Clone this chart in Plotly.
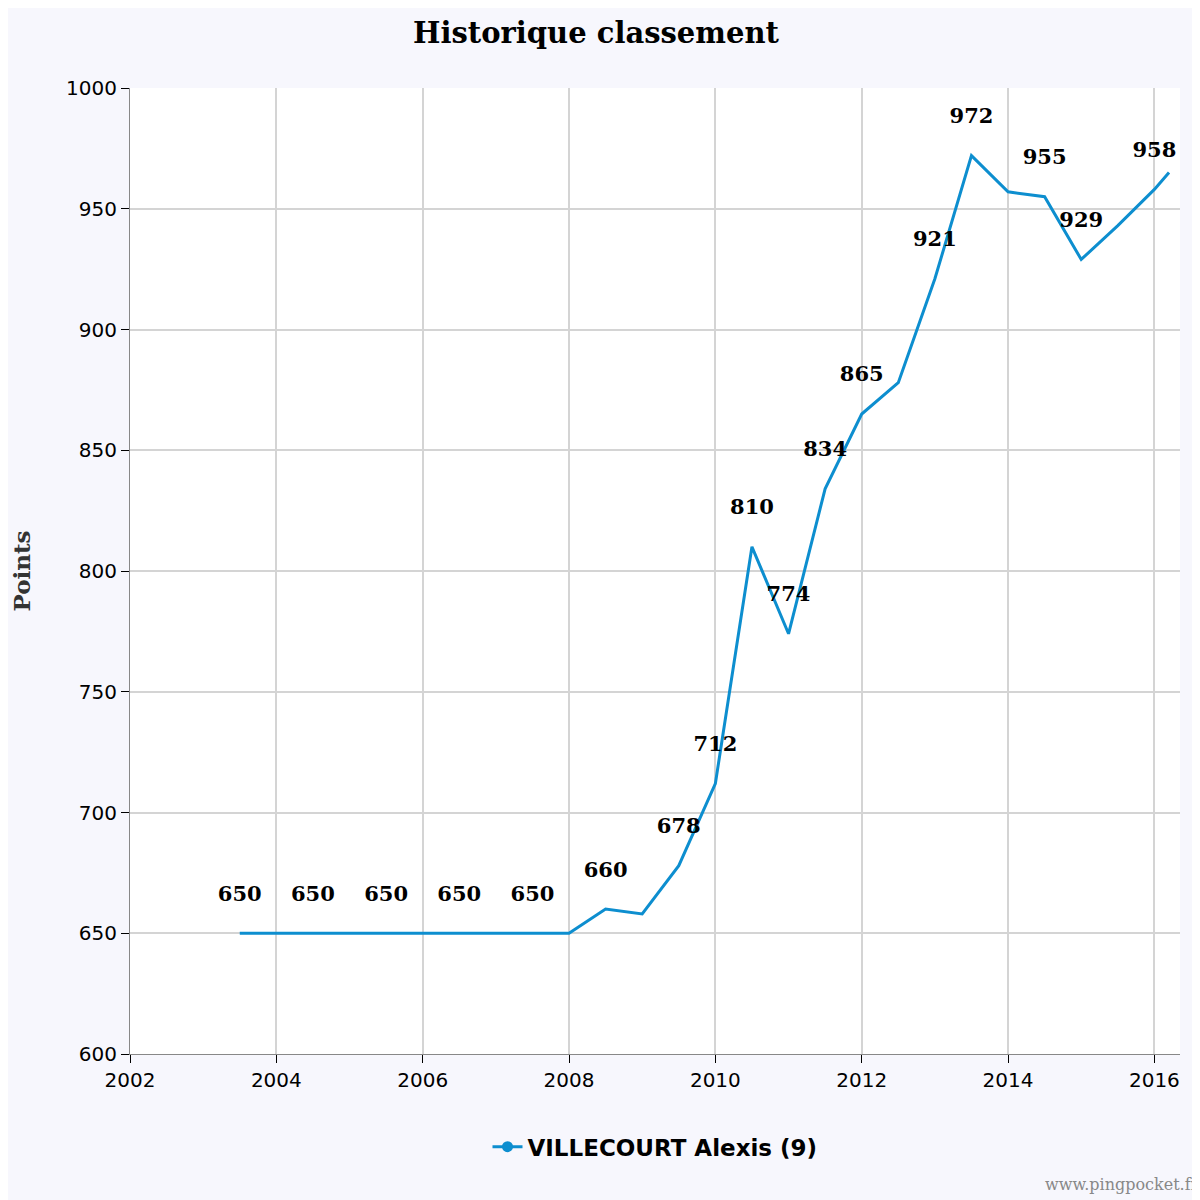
import plotly.graph_objects as go

years = [2003.5, 2004, 2004.5, 2005, 2005.5, 2006, 2006.5, 2007, 2007.5, 2008,
         2008.5, 2009, 2009.5, 2010, 2010.5, 2011, 2011.5, 2012, 2012.5, 2013,
         2013.5, 2014, 2014.5, 2015, 2015.5, 2016, 2016.2]
points = [650, 650, 650, 650, 650, 650, 650, 650, 650, 650,
          660, 658, 678, 712, 810, 774, 834, 865, 878, 921,
          972, 957, 955, 929, 943, 958, 965]
labels = ["650", "", "650", "", "650", "", "650", "", "650", "",
          "660", "", "678", "712", "810", "774", "834", "865", "", "921",
          "972", "", "955", "929", "", "958", ""]

fig = go.Figure()
fig.add_trace(go.Scatter(
    x=years, y=points, mode="lines+text", text=[l + "<br> " if l else "" for l in labels],
    textposition="top center",
    textfont=dict(family="DejaVu Serif", size=21, color="black", weight="bold"),
    line=dict(color="#0d8ecf", width=3), name="VILLECOURT Alexis (9)",
    showlegend=False, cliponaxis=False))
fig.add_trace(go.Scatter(
    x=[None], y=[None], mode="lines+markers", name="VILLECOURT Alexis (9)",
    line=dict(color="#0d8ecf", width=3), marker=dict(size=11, color="#0d8ecf")))

fig.update_layout(
    width=1200, height=1200,
    paper_bgcolor="#f7f7fd", plot_bgcolor="white",
    margin=dict(l=117, r=28, t=80, b=154),
    title=dict(text="<b>Historique classement</b>", x=0.49, y=0.979, xanchor="center",
               yanchor="middle", font=dict(family="DejaVu Serif", size=29, color="black")),
    xaxis=dict(range=[2002, 2016.35], tickvals=list(range(2002, 2017, 2)),
               showgrid=True, gridcolor="#d4d4d4", gridwidth=1.5,
               ticks="outside", ticklen=8, tickcolor="black", showline=True,
               linecolor="#888", tickfont=dict(family="DejaVu Sans", size=20, color="black")),
    yaxis=dict(range=[600, 1000], tickvals=list(range(600, 1001, 50)),
               showgrid=True, gridcolor="#d4d4d4", gridwidth=1.5,
               ticks="outside", ticklen=8, tickcolor="black", showline=True,
               linecolor="#888", tickfont=dict(family="DejaVu Sans", size=20, color="black"),
               title=dict(text="<b>Points</b>", standoff=30,
                          font=dict(family="DejaVu Serif", size=23, color="#333"))),
    legend=dict(orientation="h", x=0.5, xanchor="center", y=-0.096, yanchor="middle",
                font=dict(family="DejaVu Sans", size=23, color="black", weight="bold")),
    annotations=[dict(text="www.pingpocket.fr", xref="paper", yref="paper",
                      x=1.02, y=-0.135, xanchor="right", yanchor="middle", showarrow=False,
                      font=dict(family="DejaVu Serif", size=16, color="#888"))],
)
fig.write_html("out.html")
